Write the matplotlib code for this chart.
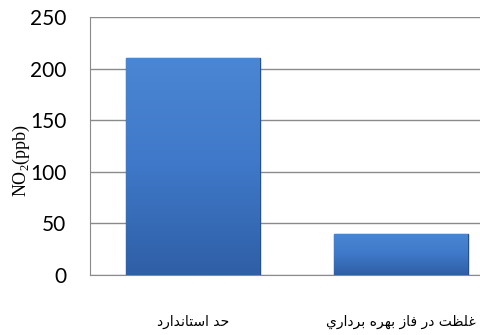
import numpy as np
import matplotlib
matplotlib.use('Agg')
import matplotlib.pyplot as plt
from matplotlib.colors import LinearSegmentedColormap

# data
categories = ['حد استاندارد', 'غلظت در فاز بهره برداري']
values = [210, 40]
y_ticks = [0, 50, 100, 150, 200, 250]

# matplotlib does no Arabic shaping, so pick presentation forms by hand
FORMS = {
    'ا': ('\uFE8D', '\uFE8E', None, None),
    'ب': ('\uFE8F', '\uFE90', '\uFE91', '\uFE92'),
    'ت': ('\uFE95', '\uFE96', '\uFE97', '\uFE98'),
    'ح': ('\uFEA1', '\uFEA2', '\uFEA3', '\uFEA4'),
    'د': ('\uFEA9', '\uFEAA', None, None),
    'ر': ('\uFEAD', '\uFEAE', None, None),
    'ز': ('\uFEAF', '\uFEB0', None, None),
    'س': ('\uFEB1', '\uFEB2', '\uFEB3', '\uFEB4'),
    'ظ': ('\uFEC5', '\uFEC6', '\uFEC7', '\uFEC8'),
    'غ': ('\uFECD', '\uFECE', '\uFECF', '\uFED0'),
    'ف': ('\uFED1', '\uFED2', '\uFED3', '\uFED4'),
    'ل': ('\uFEDD', '\uFEDE', '\uFEDF', '\uFEE0'),
    'ن': ('\uFEE5', '\uFEE6', '\uFEE7', '\uFEE8'),
    'ه': ('\uFEE9', '\uFEEA', '\uFEEB', '\uFEEC'),
    'ي': ('\uFEF1', '\uFEF2', '\uFEF3', '\uFEF4'),
}
NO_LEFT_JOIN = set('ادذرزو')


def shape(text):
    out = []
    for i, ch in enumerate(text):
        if ch not in FORMS:
            out.append(ch)
            continue
        prev = text[i - 1] if i > 0 else ' '
        nxt = text[i + 1] if i + 1 < len(text) else ' '
        join_prev = prev in FORMS and prev not in NO_LEFT_JOIN
        join_next = nxt in FORMS and ch not in NO_LEFT_JOIN
        iso, fin, ini, med = FORMS[ch]
        if join_prev and join_next:
            out.append(med)
        elif join_prev:
            out.append(fin)
        elif join_next:
            out.append(ini)
        else:
            out.append(iso)
    return ''.join(reversed(out))


fig = plt.figure(figsize=(4.81, 3.35), dpi=100)
ax = fig.add_axes([90 / 481, 60 / 335, 1 - 90 / 481, 258 / 335])

x = np.arange(len(categories))
bars = ax.bar(x, values, width=0.644, color='#3d73c4', edgecolor='#24508f',
              linewidth=1.0, zorder=3)

# gradient fill clipped to each bar
cmap = LinearSegmentedColormap.from_list('bluegrad', ['#2f5fa6', '#3f78c8', '#4a86d4'])
grad = np.linspace(0, 1, 100).reshape(-1, 1)
for b in bars:
    x0, w, h = b.get_x(), b.get_width(), b.get_height()
    im = ax.imshow(grad, cmap=cmap, extent=[x0, x0 + w, 0, h], origin='lower',
                   aspect='auto', zorder=3.5)
    im.set_clip_path(b)

ax.set_xlim(-0.495, 1.385)
ax.set_ylim(0, 250)
ax.set_yticks(y_ticks)
ax.set_yticklabels([str(t) for t in y_ticks], fontname='Lato', fontsize=15)
ax.tick_params(axis='y', length=0, pad=17)
ax.set_xticks(x)
ax.set_xticklabels([shape(c) for c in categories], fontname='DejaVu Sans', fontsize=10)
ax.tick_params(axis='x', length=0, pad=29)

ax.grid(axis='y', color='#8a8a8a', linewidth=1.0, zorder=0)
ax.set_axisbelow(True)
for side in ['top', 'right']:
    ax.spines[side].set_visible(False)
for side in ['left', 'bottom']:
    ax.spines[side].set_color('#8a8a8a')

fig.text(21 / 481, 1 - 160 / 335, 'NO$_{\\mathregular{2}}$(ppb)', rotation=90,
         ha='center', va='center', fontname='Liberation Serif', fontsize=13)

fig.savefig('out.png', dpi=100)
